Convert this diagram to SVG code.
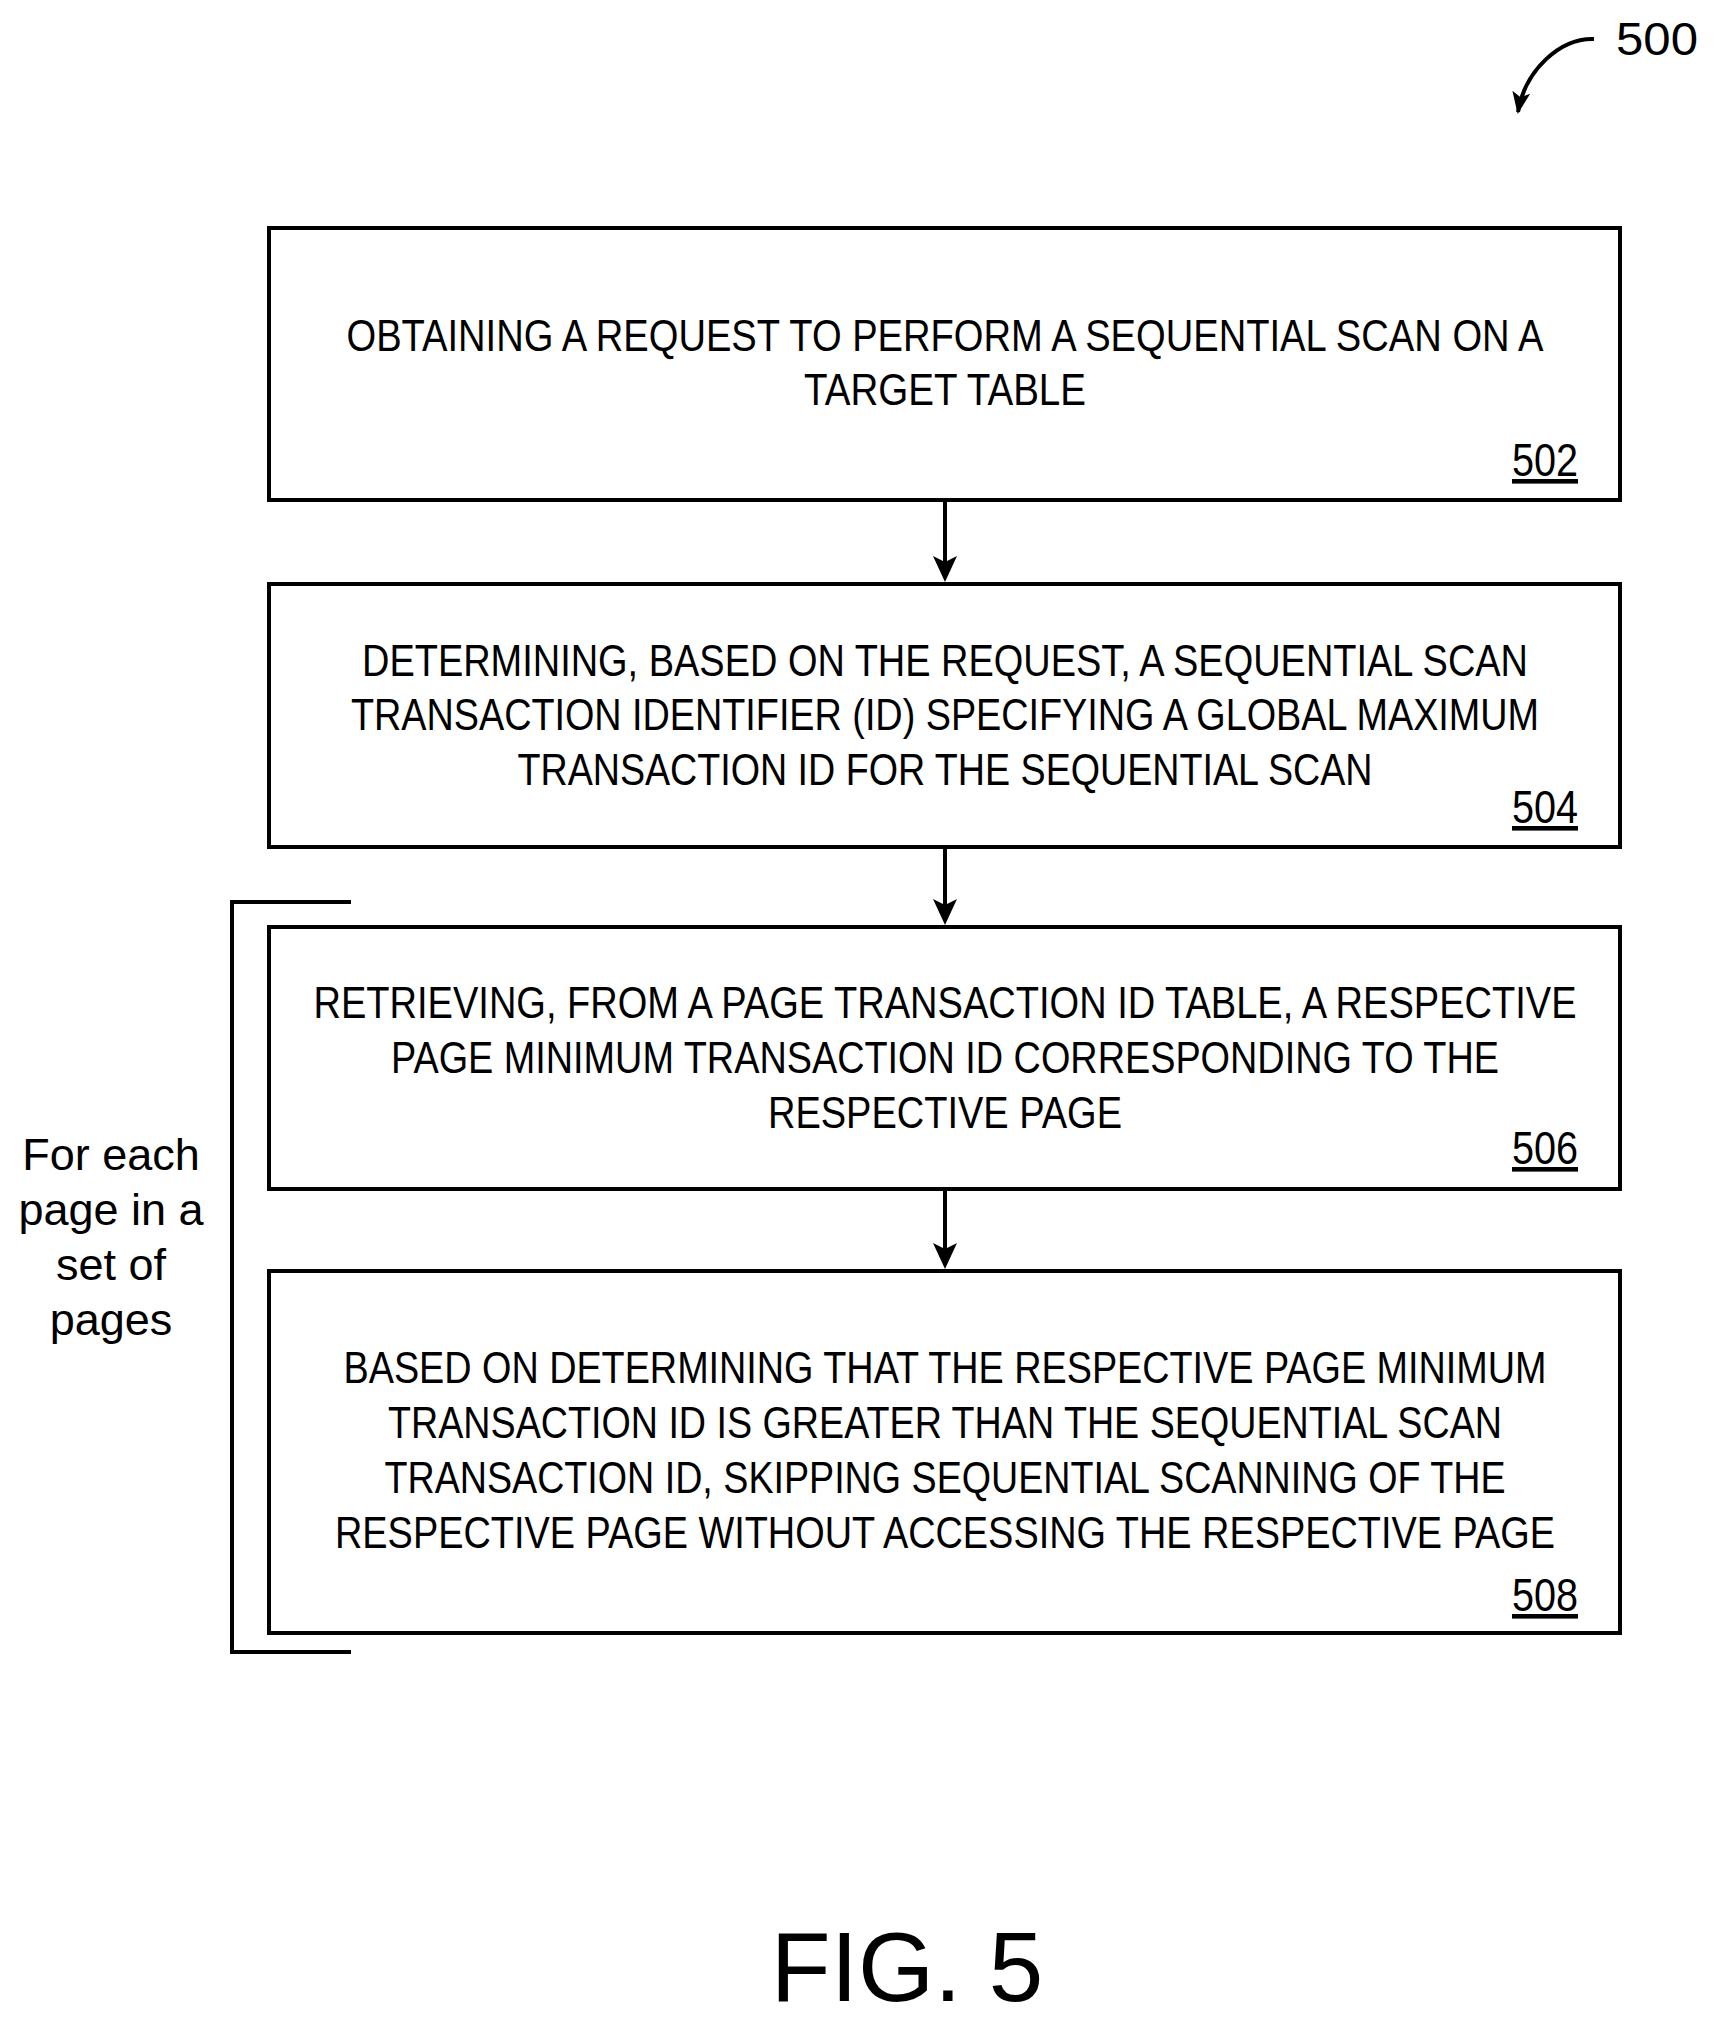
<svg xmlns="http://www.w3.org/2000/svg" width="1717" height="2025" viewBox="0 0 1717 2025">
<style>
.box{fill:#fff;stroke:#000;stroke-width:4}
.t{font-family:"Liberation Sans",Arial,sans-serif;font-size:44px;text-anchor:middle;fill:#000}
.n{font-family:"Liberation Sans",Arial,sans-serif;font-size:46px;text-anchor:middle;text-decoration:underline;fill:#000}
.c{stroke:#000;stroke-width:4;fill:none}
</style>
<defs>
<marker id="a2" markerWidth="24" markerHeight="24" refX="20" refY="12" orient="auto" markerUnits="userSpaceOnUse"><path d="M0,3 L22,12 L0,21 L5,12 z" fill="#000"/></marker></defs>
<g id="ref500"><text x="1657" y="55" class="t" style="font-size:46px" textLength="82" lengthAdjust="spacingAndGlyphs">500</text>
<path d="M1594,39 C1560,38 1525,70 1518,112" class="c" stroke-width="3" marker-end="url(#a2)"/></g>
<g id="n502"><rect x="269" y="228" width="1351" height="272" class="box"/>
<text x="945" y="351" class="t" textLength="1197" lengthAdjust="spacingAndGlyphs">OBTAINING A REQUEST TO PERFORM A SEQUENTIAL SCAN ON A</text>
<text x="945" y="405" class="t" textLength="282" lengthAdjust="spacingAndGlyphs">TARGET TABLE</text>
<text x="1545" y="476" class="n" textLength="66" lengthAdjust="spacingAndGlyphs">502</text></g>
<g id="n504"><rect x="269" y="584" width="1351" height="263" class="box"/>
<text x="945" y="676" class="t" textLength="1166" lengthAdjust="spacingAndGlyphs">DETERMINING, BASED ON THE REQUEST, A SEQUENTIAL SCAN</text>
<text x="945" y="730" class="t" textLength="1188" lengthAdjust="spacingAndGlyphs">TRANSACTION IDENTIFIER (ID) SPECIFYING A GLOBAL MAXIMUM</text>
<text x="945" y="785" class="t" textLength="855" lengthAdjust="spacingAndGlyphs">TRANSACTION ID FOR THE SEQUENTIAL SCAN</text>
<text x="1545" y="823" class="n" textLength="66" lengthAdjust="spacingAndGlyphs">504</text></g>
<g id="n506"><rect x="269" y="927" width="1351" height="262" class="box"/>
<text x="945" y="1018" class="t" textLength="1263" lengthAdjust="spacingAndGlyphs">RETRIEVING, FROM A PAGE TRANSACTION ID TABLE, A RESPECTIVE</text>
<text x="945" y="1073" class="t" textLength="1108" lengthAdjust="spacingAndGlyphs">PAGE MINIMUM TRANSACTION ID CORRESPONDING TO THE</text>
<text x="945" y="1128" class="t" textLength="354" lengthAdjust="spacingAndGlyphs">RESPECTIVE PAGE</text>
<text x="1545" y="1164" class="n" textLength="66" lengthAdjust="spacingAndGlyphs">506</text></g>
<g id="n508"><rect x="269" y="1271" width="1351" height="362" class="box"/>
<text x="945" y="1383" class="t" textLength="1203" lengthAdjust="spacingAndGlyphs">BASED ON DETERMINING THAT THE RESPECTIVE PAGE MINIMUM</text>
<text x="945" y="1438" class="t" textLength="1114" lengthAdjust="spacingAndGlyphs">TRANSACTION ID IS GREATER THAN THE SEQUENTIAL SCAN</text>
<text x="945" y="1493" class="t" textLength="1121" lengthAdjust="spacingAndGlyphs">TRANSACTION ID, SKIPPING SEQUENTIAL SCANNING OF THE</text>
<text x="945" y="1548" class="t" textLength="1220" lengthAdjust="spacingAndGlyphs">RESPECTIVE PAGE WITHOUT ACCESSING THE RESPECTIVE PAGE</text>
<text x="1545" y="1611" class="n" textLength="66" lengthAdjust="spacingAndGlyphs">508</text></g>
<g id="loop"><path d="M351,902 H232 V1652 H351" class="c"/>
<text class="t" style="font-size:45px"><tspan x="111" y="1170">For each</tspan><tspan x="111" y="1225">page in a</tspan><tspan x="111" y="1280">set of</tspan><tspan x="111" y="1335">pages</tspan></text></g>
<g id="connectors">
<line x1="945" y1="500" x2="945" y2="570" class="c"/>
<path d="M933,556 L945,582 L957,556 L945,562 z" fill="#000"/>
<line x1="945" y1="847" x2="945" y2="913" class="c"/>
<path d="M933,899 L945,925 L957,899 L945,905 z" fill="#000"/>
<line x1="945" y1="1189" x2="945" y2="1257" class="c"/>
<path d="M933,1243 L945,1269 L957,1243 L945,1249 z" fill="#000"/>
</g>
<text x="907" y="2001" class="t" style="font-size:98px">FIG. 5</text>
</svg>
